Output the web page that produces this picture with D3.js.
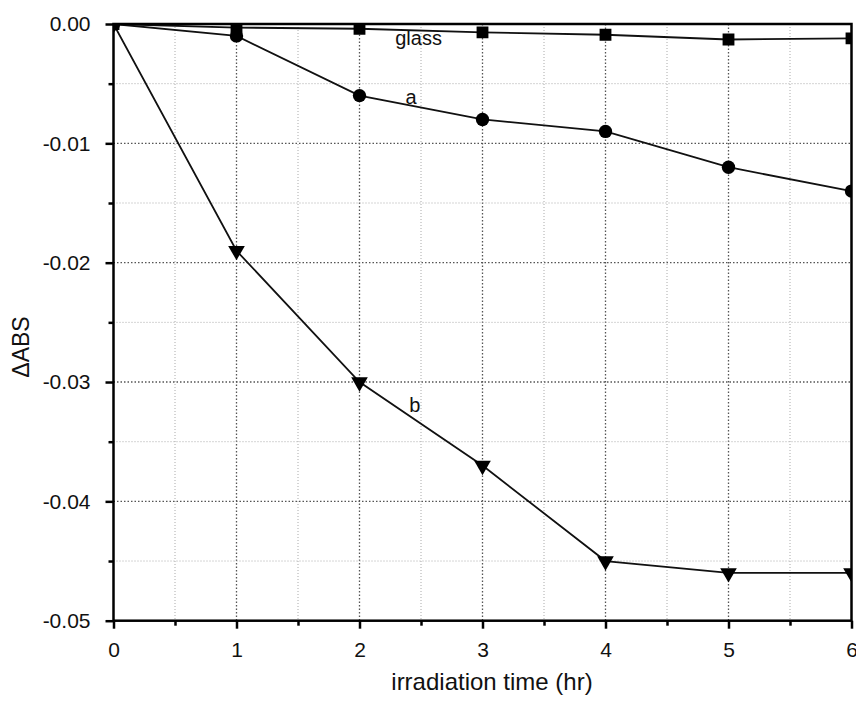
<!DOCTYPE html>
<html>
<head>
<meta charset="utf-8">
<script src="https://cdn.jsdelivr.net/npm/d3@7"></script>
<style>
  body { margin: 0; background: #fff; }
  text { font-family: "Liberation Sans", Arial, sans-serif; fill: #111; }
</style>
</head>
<body>
<script>
  var hours = [0, 1, 2, 3, 4, 5, 6];
  var glass = [0, -0.0003, -0.0004, -0.0007, -0.0009, -0.0013, -0.0012];
  var seriesA = [0, -0.001, -0.006, -0.008, -0.009, -0.012, -0.014];
  var seriesB = [0, -0.019, -0.030, -0.037, -0.045, -0.046, -0.046];
  var yTicks = [0, -0.01, -0.02, -0.03, -0.04, -0.05];

  var w = 856, h = 701;
  var margin = {top: 24, right: 5, bottom: 80, left: 113.5};
  var innerW = 851.5 - margin.left, innerH = 620.7 - margin.top;

  var x = d3.scaleLinear().domain([0, 6]).range([0, innerW]);
  var y = d3.scaleLinear().domain([-0.05, 0]).range([innerH, 0]);

  var svg = d3.select('body').append('svg')
    .attr('width', w).attr('height', h);
  var g = svg.append('g')
    .attr('transform', 'translate(' + [margin.left, margin.top] + ')');

  // grid
  var xMinor = d3.range(0.5, 6, 1), xMajor = d3.range(1, 6, 1);
  var yMinor = d3.range(-0.045, 0, 0.01), yMajor = [-0.01, -0.02, -0.03, -0.04];
  g.selectAll('.gxm').data(xMinor).enter().append('line')
    .attr('x1', x).attr('x2', x).attr('y1', 0).attr('y2', innerH)
    .attr('stroke', '#aaa').attr('stroke-width', 1).attr('stroke-dasharray', '1,2');
  g.selectAll('.gxM').data(xMajor).enter().append('line')
    .attr('x1', x).attr('x2', x).attr('y1', 0).attr('y2', innerH)
    .attr('stroke', '#555').attr('stroke-width', 1.3).attr('stroke-dasharray', '1.5,2');
  g.selectAll('.gym').data(yMinor).enter().append('line')
    .attr('y1', y).attr('y2', y).attr('x1', 0).attr('x2', innerW)
    .attr('stroke', '#aaa').attr('stroke-width', 1).attr('stroke-dasharray', '1,2');
  g.selectAll('.gyM').data(yMajor).enter().append('line')
    .attr('y1', y).attr('y2', y).attr('x1', 0).attr('x2', innerW)
    .attr('stroke', '#555').attr('stroke-width', 1.3).attr('stroke-dasharray', '1.5,2');

  // clip for data
  svg.append('defs').append('clipPath').attr('id', 'clip')
    .append('rect').attr('width', innerW).attr('height', innerH);
  var plot = g.append('g').attr('clip-path', 'url(#clip)');

  var line = d3.line().x(function (d, i) { return x(hours[i]); }).y(function (d) { return y(d); });
  var series = [
    {values: seriesB, sym: d3.symbolTriangle, rot: 180, size: 120},
    {values: seriesA, sym: d3.symbolCircle, rot: 0, size: 140},
    {values: glass, sym: d3.symbolSquare, rot: 0, size: 140}
  ];
  series.forEach(function (s) {
    plot.append('path').datum(s.values).attr('d', line)
      .attr('fill', 'none').attr('stroke', '#111').attr('stroke-width', 1.8);
    plot.selectAll(null).data(s.values).enter().append('path')
      .attr('d', d3.symbol().type(s.sym).size(s.size))
      .attr('transform', function (d, i) {
        return 'translate(' + x(hours[i]) + ',' + y(d) + ') rotate(' + s.rot + ')';
      })
      .attr('fill', '#000');
  });

  // frame
  g.append('rect').attr('width', innerW).attr('height', innerH)
    .attr('fill', 'none').attr('stroke', '#000').attr('stroke-width', 2.5);

  // axes
  g.append('g').attr('transform', 'translate(0,' + innerH + ')')
    .call(d3.axisBottom(x).tickValues(hours).tickSize(8).tickPadding(13).tickFormat(d3.format('d')));
  g.append('g').attr('transform', 'translate(0,' + innerH + ')')
    .call(d3.axisBottom(x).tickValues(xMinor).tickSize(5).tickFormat(''));
  var yAxis = g.append('g')
    .call(d3.axisLeft(y).tickValues(yTicks).tickSize(8).tickPadding(15));
  g.append('g')
    .call(d3.axisLeft(y).tickValues(yMinor).tickSize(5).tickFormat(''));
  g.selectAll('.domain').remove();
  g.selectAll('.tick line').attr('stroke', '#000').attr('stroke-width', 2.5);
  g.selectAll('.tick text').attr('fill', '#111')
    .style('font-size', '21px')
    .style('font-family', '"Liberation Sans", Arial, sans-serif');
  yAxis.selectAll('.tick text').text(function (d) { return d === 0 ? '0.00' : '-' + d3.format('.2f')(-d); });

  // labels
  svg.append('text').attr('x', 492).attr('y', 690).attr('text-anchor', 'middle')
    .style('font-size', '24px').text('irradiation time (hr)');
  svg.append('text').attr('transform', 'translate(29,347) rotate(-90)')
    .attr('text-anchor', 'middle').style('font-size', '23px').text('ΔABS');

  var notes = [
    {t: 'glass', hx: 2.48, v: -0.0018},
    {t: 'a', hx: 2.42, v: -0.0067},
    {t: 'b', hx: 2.45, v: -0.0325}
  ];
  g.selectAll('.note').data(notes).enter().append('text')
    .attr('x', function (d) { return x(d.hx); })
    .attr('y', function (d) { return y(d.v); })
    .attr('text-anchor', 'middle').style('font-size', '20px')
    .text(function (d) { return d.t; });
</script>
</body>
</html>
